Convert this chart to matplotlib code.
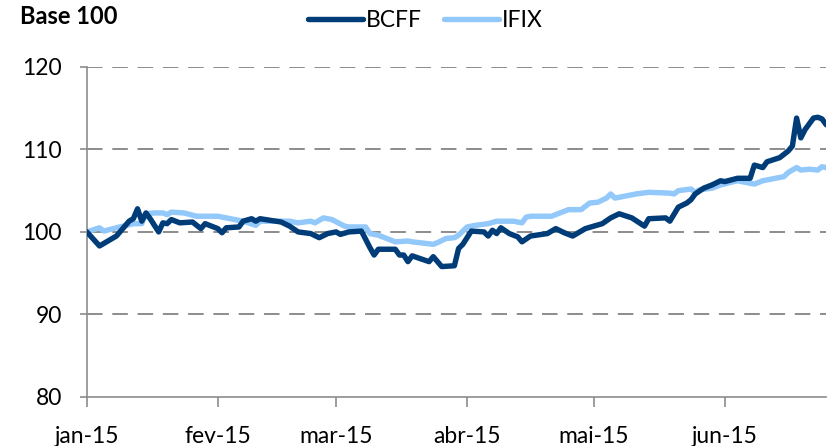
import pandas as pd
import matplotlib
matplotlib.use('Agg')
import matplotlib.pyplot as plt

plt.rcParams['font.family'] = ['Lato', 'DejaVu Sans']

# dias desde 01/01/2015 e valores base 100
bcff_dias = [0, 3, 5, 7, 8, 10, 11, 12, 13, 14, 15, 17, 18, 19, 20, 22, 25, 27, 28,
             31, 32, 33, 36, 37, 39, 40, 41, 46, 48, 50, 53, 55, 57, 59, 60, 62, 65,
             67, 68, 69, 73, 74, 75, 76, 77, 81, 82, 84, 87, 88, 89, 91, 94, 95, 96,
             97, 98, 100, 102, 103, 105, 109, 111, 113, 115, 118, 122, 124, 126, 129,
             132, 133, 137, 138, 140, 142, 143, 144, 146, 148, 150, 151, 154, 157, 158,
             160, 161, 164, 166, 167, 168, 169, 170, 172, 173, 174, 175]
bcff = [100.0, 98.3, 98.9, 99.5, 100.1, 101.3, 101.6, 102.8, 101.3, 102.3, 101.6, 100.0,
        101.1, 101.0, 101.5, 101.1, 101.2, 100.4, 101.0, 100.4, 99.9, 100.5, 100.6, 101.3,
        101.6, 101.3, 101.6, 101.2, 100.7, 100.0, 99.8, 99.3, 99.8, 100.0, 99.7, 100.0,
        100.1, 98.1, 97.2, 97.9, 97.9, 97.2, 97.2, 96.4, 97.1, 96.4, 97.0, 95.8, 95.9,
        98.0, 98.5, 100.1, 100.0, 99.5, 100.2, 99.8, 100.5, 99.8, 99.4, 98.8, 99.5, 99.8,
        100.4, 99.9, 99.5, 100.4, 101.0, 101.7, 102.2, 101.7, 100.7, 101.6, 101.7, 101.3,
        103.0, 103.5, 103.9, 104.6, 105.3, 105.7, 106.2, 106.1, 106.5, 106.5, 108.1,
        107.8, 108.5, 109.0, 109.8, 110.4, 113.8, 111.4, 112.4, 113.8, 113.9, 113.7, 113.0]

ifix_dias = [0, 3, 4, 7, 11, 13, 14, 16, 18, 19, 20, 23, 26, 31, 33, 37, 40, 41, 48, 50,
             53, 54, 56, 58, 61, 62, 66, 67, 69, 73, 76, 77, 82, 83, 85, 87, 88, 90, 92,
             95, 97, 101, 103, 104, 105, 110, 112, 114, 117, 119, 121, 123, 124, 125, 130,
             133, 138, 139, 140, 143, 144, 145, 148, 150, 154, 158, 160, 163, 165, 166,
             168, 169, 171, 173, 174, 175]
ifix = [100.0, 100.5, 100.1, 100.5, 101.0, 101.0, 102.2, 102.3, 102.3, 102.1, 102.4, 102.3,
        101.9, 101.9, 101.7, 101.3, 100.8, 101.3, 101.3, 101.1, 101.3, 101.1, 101.7, 101.5,
        100.7, 100.6, 100.6, 99.8, 99.6, 98.8, 98.9, 98.8, 98.5, 98.7, 99.2, 99.3, 99.6,
        100.6, 100.8, 101.0, 101.3, 101.3, 101.1, 101.8, 101.9, 101.9, 102.3, 102.7, 102.7,
        103.5, 103.6, 104.1, 104.6, 104.1, 104.6, 104.8, 104.7, 104.6, 105.0, 105.2, 104.8,
        105.1, 105.3, 105.7, 106.2, 105.8, 106.2, 106.5, 106.7, 107.2, 107.8, 107.5, 107.6,
        107.5, 107.9, 107.8]

meses = ['jan-15', 'fev-15', 'mar-15', 'abr-15', 'mai-15', 'jun-15']

inicio = pd.Timestamp('2015-01-01')
bcff_datas = inicio + pd.to_timedelta(bcff_dias, unit='D')
ifix_datas = inicio + pd.to_timedelta(ifix_dias, unit='D')

cor_bcff = '#003C78'
cor_ifix = '#93C8FA'
cinza = '#8C8C8C'

fig = plt.figure(figsize=(8.27, 4.46), dpi=100)
ax = fig.add_axes([0.105, 0.11, 0.894, 0.74])

for y in [90, 100, 110, 120]:
    ax.axhline(y, color=cinza, lw=1.4, ls=(0, (8, 5)), zorder=1)

ax.plot(bcff_datas, bcff, color=cor_bcff, lw=3.9, solid_joinstyle='round',
        solid_capstyle='round', label='BCFF', zorder=3)
ax.plot(ifix_datas, ifix, color=cor_ifix, lw=3.9, solid_joinstyle='round',
        solid_capstyle='round', label='IFIX', zorder=2)

ax.set_ylim(80, 120)
ax.set_yticks([80, 90, 100, 110, 120])
ax.set_xlim(inicio, inicio + pd.Timedelta(days=175))
ticks = pd.date_range('2015-01-01', periods=6, freq='MS')
ax.set_xticks(ticks)
ax.set_xticklabels(meses)

for s in ['top', 'right']:
    ax.spines[s].set_visible(False)
for s in ['left', 'bottom']:
    ax.spines[s].set_color(cinza)
    ax.spines[s].set_linewidth(1.2)
ax.tick_params(axis='x', length=7, width=1.2, color=cinza, pad=14, labelsize=16.5)
ax.tick_params(axis='y', length=5, width=1.2, color=cinza, pad=13, labelsize=16.5)

fig.text(0.024, 0.962, 'Base 100', fontsize=17, fontweight='bold', va='center')
ax.legend(loc='center', bbox_to_anchor=(0.458, 1.142), ncol=2, frameon=False,
          fontsize=16.5, handlelength=2.4, handletextpad=0.1, columnspacing=1.0)

fig.savefig('out.png', dpi=100)
